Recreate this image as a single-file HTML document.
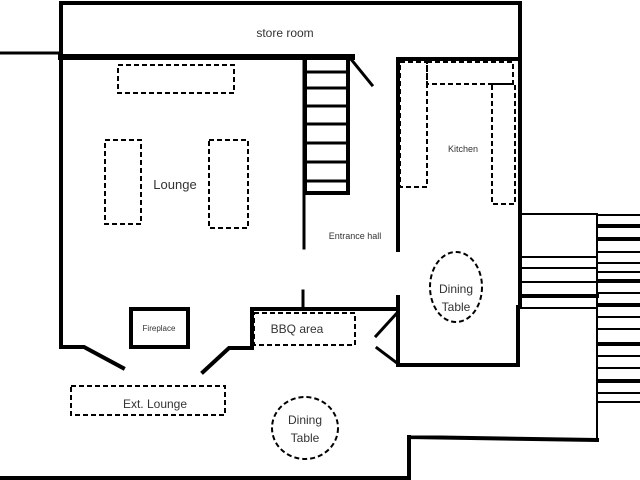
<!DOCTYPE html>
<html><head><style>body{margin:0;background:#fff}svg{display:block}text{font-family:"Liberation Sans",sans-serif;fill:#333}</style></head><body>
<svg width="640" height="480" viewBox="0 0 640 480">
<g stroke="#000" fill="none" stroke-linecap="square">
<path d="M61 57V3H520V307" stroke-width="4"/>
<path d="M0 53H61" stroke-width="3"/>
<path d="M61 57H352" stroke-width="6"/>
<path d="M61 57V347H84L123 368" stroke-width="4"/>
<rect x="131" y="309" width="57" height="38" stroke-width="4"/>
<path d="M203 372L229 348H252V309H397" stroke-width="4"/>
<path d="M303 309V291" stroke-width="3"/>
<path d="M304 57V248" stroke-width="3"/>
<path d="M305 57V193H348V57" stroke-width="4"/>
<path d="M305 72H346M305 88H346M305 106H346M305 124H346M305 143H346M305 162H346M305 181H346" stroke-width="3"/>
<path d="M350 58L372 85" stroke-width="3"/>
<path d="M398 250V59H520" stroke-width="4"/>
<path d="M398 297V365H518V307" stroke-width="4"/>
<path d="M376 336L397 313M377 348L397 363" stroke-width="3"/>
<path d="M520 214H597V437M520 257H597M520 268H597M520 282H597M520 308H597" stroke-width="2"/>
<path d="M520 296H597" stroke-width="4"/>
<path d="M598 215H640M598 252H640M598 263H640M598 272H640M598 293H640M598 317H640M598 329H640M598 356H640M598 368H640M598 393H640M598 402H640" stroke-width="2"/>
<path d="M598 226H640M598 239H640M598 281H640M598 305H640M598 344H640M598 381H640" stroke-width="4"/>
<path d="M410 437L597 440M409 437V478H0" stroke-width="4"/>
</g>
<g stroke="#000" fill="none" stroke-width="2" stroke-dasharray="5,3">
<rect x="118" y="65" width="116" height="28"/>
<rect x="105" y="140" width="36" height="84"/>
<rect x="209" y="140" width="39" height="88"/>
<rect x="400" y="62" width="27" height="125"/>
<rect x="427" y="62" width="86" height="22"/>
<rect x="492" y="84" width="23" height="120"/>
<ellipse cx="456" cy="287" rx="26" ry="35"/>
<rect x="254" y="313" width="101" height="32"/>
<rect x="71" y="386" width="154" height="29"/>
<ellipse cx="305" cy="428" rx="33" ry="31"/>
</g>
<text x="285" y="37" font-size="12" text-anchor="middle">store room</text>
<text x="175" y="189" font-size="13" text-anchor="middle">Lounge</text>
<text x="463" y="152" font-size="9" text-anchor="middle">Kitchen</text>
<text x="355" y="239" font-size="9" text-anchor="middle">Entrance hall</text>
<text x="456" y="293" font-size="12" text-anchor="middle">Dining</text>
<text x="456" y="311" font-size="12" text-anchor="middle">Table</text>
<text x="159" y="331" font-size="8" text-anchor="middle">Fireplace</text>
<text x="297" y="333" font-size="12" text-anchor="middle">BBQ area</text>
<text x="155" y="408" font-size="12" text-anchor="middle">Ext. Lounge</text>
<text x="305" y="424" font-size="12" text-anchor="middle">Dining</text>
<text x="305" y="442" font-size="12" text-anchor="middle">Table</text>
</svg>
</body></html>
